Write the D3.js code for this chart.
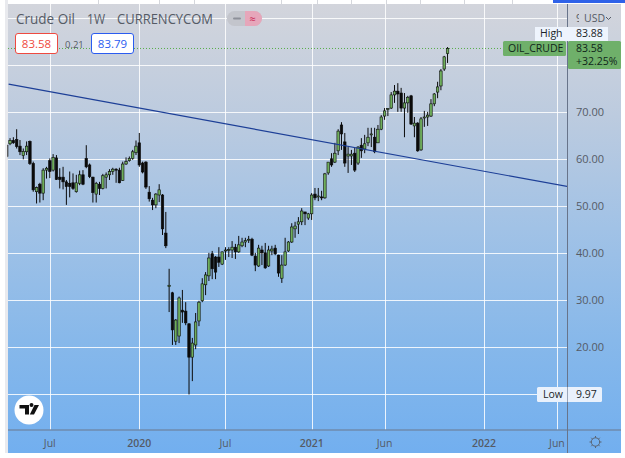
<!DOCTYPE html>
<html>
<head>
<meta charset="utf-8">
<style>
html,body{margin:0;padding:0;background:#fff}
svg{display:block}
text{font-family:"Open Sans","Noto Sans",sans-serif}
</style>
<script src="https://cdn.jsdelivr.net/npm/d3@7/dist/d3.min.js"></script>
</head>
<body>
<svg id="chart" width="625" height="458"></svg>
<script>
// Weekly OIL_CRUDE candles, first bar in the week of 1 April 2019
const firstWeek = "2019-04-01";
const opens = [63.0,63.3,64.0,64.2,62.8,60.8,61.6,63.8,59.1,53.1,54.7,52.8,57.7,59.7,57.7,60.3,56.2,56.2,55.2,54.9,55.0,53.1,54.9,56.7,60.2,58.8,56.2,52.6,54.7,53.8,56.2,56.7,57.4,57.9,57.7,55.5,59.0,59.7,60.2,61.4,
  63.5,59.2,59.4,53.0,51.3,50.3,52.4,52.4,44.3,32.9,31.6,21.3,22.4,27.9,27.7,25.0,17.9,20.5,25.6,29.9,33.3,35.2,39.9,39.2,39.2,37.7,40.5,40.6,40.7,41.3,40.3,41.6,42.4,42.8,43.0,39.4,37.3,40.7,40.1,37.3,40.5,41.1,39.6,34.7,37.5,40.5,42.4,45.2,46.2,46.7,48.8,47.5,48.4,52.6,52.0,52.0,51.8,57.1,60.1,59.4,61.8,67.3,63.7,60.7,60.7,61.3,59.2,63.0,62.2,63.5,65.2,64.7,63.5,66.4,69.2,70.6,70.9,73.7,74.5,74.1,70.9,72.0,73.5,67.1,67.7,62.0,68.8,69.0,69.2,71.8,74.3,75.6,79.2,82.5];
const highs = [63.3,64.5,64.7,66.4,64.1,62.3,63.8,64.0,59.5,54.2,55.0,58.1,58.4,60.2,61.1,60.9,58.1,58.4,55.6,57.4,57.0,56.7,57.6,57.7,63.0,59.1,56.3,55.2,55.2,56.9,57.2,57.9,58.2,58.1,58.2,59.5,60.4,60.6,62.0,64.0,
  65.6,59.5,59.6,54.3,51.8,52.8,54.7,52.6,48.8,36.7,31.8,26.0,30.8,32.2,29.6,25.1,22.0,27.3,29.9,34.7,36.0,40.1,40.5,39.4,41.3,40.4,41.3,41.3,42.6,42.0,43.7,43.3,43.3,43.7,43.3,40.1,41.8,41.6,42.2,41.6,41.6,41.8,39.7,39.6,43.3,42.6,46.4,46.7,47.7,49.6,48.8,48.6,52.8,53.9,53.9,53.3,57.1,59.4,61.3,63.5,66.4,67.9,65.6,62.6,62.0,62.4,62.8,64.5,65.2,66.7,66.7,66.7,67.3,69.4,70.9,70.9,74.3,75.8,76.2,75.2,74.1,73.5,73.7,69.0,67.9,69.0,70.3,70.1,72.8,74.1,76.5,79.2,82.0,83.88];
const lows = [60.2,63.0,63.3,62.3,60.9,60.0,60.9,58.8,53.1,50.6,50.8,51.3,55.9,56.0,57.4,55.6,53.8,53.6,50.3,51.9,53.5,52.9,54.5,54.5,58.1,56.0,50.8,50.8,52.4,53.6,53.8,55.6,56.7,55.0,54.9,55.4,58.8,59.5,59.9,60.9,
  58.4,57.0,53.7,51.0,49.2,49.6,50.9,43.9,41.1,27.5,20.5,20.5,20.9,25.2,24.7,9.97,12.8,19.6,24.5,29.6,31.1,34.1,34.5,34.5,37.1,37.5,38.6,39.2,39.0,38.8,40.1,41.3,41.3,42.2,39.4,36.2,37.1,37.5,36.7,37.1,39.6,39.6,35.0,33.7,37.3,40.3,42.2,43.3,44.1,46.0,46.0,47.1,47.1,51.3,51.1,51.3,51.6,56.7,58.4,59.2,60.9,62.0,58.4,57.1,58.8,57.3,58.8,60.3,61.3,62.8,62.6,61.3,63.5,66.2,68.4,69.2,70.7,72.0,70.1,70.1,64.7,69.9,67.3,64.7,61.6,61.8,66.9,67.1,69.0,71.3,73.0,74.7,78.8,80.5];
const closes = [60.6,64.0,63.5,62.7,61.6,61.7,62.8,59.1,53.5,54.0,52.8,57.7,58.1,57.4,60.4,55.7,55.7,55.2,54.2,54.2,53.8,55.0,56.7,54.7,58.4,56.3,52.9,54.9,53.8,56.5,56.7,57.4,57.9,57.7,55.0,59.0,59.5,60.2,61.6,62.8,
  58.8,57.3,54.1,51.6,50.3,52.6,53.5,45.2,41.6,33.2,23.7,25.8,30.5,27.5,25.2,17.9,20.9,25.4,29.6,33.5,35.4,39.0,36.7,36.0,38.1,40.3,40.7,40.8,41.3,40.3,41.8,42.4,42.7,43.0,39.6,37.5,41.1,40.1,36.9,40.7,40.9,39.9,35.8,37.5,40.3,42.4,45.6,45.8,46.7,49.0,48.4,48.4,52.4,51.8,52.2,51.8,56.9,59.4,58.8,61.3,66.0,65.4,59.2,61.1,61.1,57.7,62.6,61.8,63.3,64.7,65.4,61.6,66.4,69.0,70.3,70.8,73.7,74.5,73.9,70.9,72.0,73.2,67.5,67.7,61.8,68.6,69.0,69.4,71.8,73.9,75.4,78.8,81.8,83.58];

// Axis ticks and the drawn trend line
const gridPrices = [10,20,30,40,50,60,70,80,90];
const labelledPrices = [20,30,40,50,60,70];
const timeTicks = ["2019-07-01","2020-01-06","2020-07-06","2021-01-04","2021-06-07","2022-01-03","2022-06-06"];
const timeLabels = ["Jul","2020","Jul","2021","Jun","2022","Jun"];
const trendDates = ["2019-04-05","2022-07-04"];
const trendValues = [76.0,54.1];

const lastClose = 83.58, priceChange = "+32.25%";
const sessionHigh = 83.88, sessionLow = 9.97;
const bidPrice = "83.58", spreadText = "0.21", askPrice = "83.79";
const tabEdges = [98,159,194,281,317,351,386,420,464,512];

const plot = {left:8, right:567, top:4, bottom:430, axisBottom:453, panelRight:621};
const parse = d3.utcParse("%Y-%m-%d");

const weeks = d3.utcMonday.range(parse(firstWeek), d3.utcDay.offset(parse(firstWeek), opens.length*7));
const candles = weeks.map((date,i)=>({date, o:opens[i], h:highs[i], l:lows[i], c:closes[i]}));

const x = d3.scaleUtc().domain([parse("2020-01-06"),parse("2022-01-03")]).range([139.3,484]);
const y = d3.scaleLinear().domain([10,80]).range([394.3,65.3]);

const svg = d3.select("#chart");
const defs = svg.append("defs");
const grad = defs.append("linearGradient").attr("id","panelFill").attr("x1",0).attr("x2",0).attr("y1",0).attr("y2",1);
[[0,"#d3d5dc"],[0.25,"#bccbdf"],[0.5,"#a1c2e6"],[0.75,"#87b8ea"],[1,"#72afef"]]
  .forEach(([o,c])=>grad.append("stop").attr("offset",o).attr("stop-color",c));
defs.append("clipPath").attr("id","plotClip").append("rect")
  .attr("x",plot.left-0.5).attr("y",plot.top).attr("width",plot.right-plot.left+0.5).attr("height",plot.bottom-plot.top);
defs.append("clipPath").attr("id","scaleClip").append("rect")
  .attr("x",570).attr("y",8).attr("width",9).attr("height",20);

// Window chrome around the panel
svg.append("rect").attr("width",625).attr("height",458).attr("fill","#fff");
svg.append("rect").attr("x",5).attr("y",0).attr("width",3).attr("height",453).attr("fill","#e9eaee");
svg.append("g").selectAll("line").data(tabEdges).join("line")
  .attr("x1",d=>d+0.5).attr("x2",d=>d+0.5).attr("y1",0).attr("y2",4).attr("stroke","#d5d7dc");
svg.append("rect").attr("x",553).attr("y",0).attr("width",72).attr("height",3).attr("fill","#2f62e8");
svg.append("rect").attr("x",plot.left).attr("y",plot.top).attr("width",plot.panelRight-plot.left)
  .attr("height",plot.axisBottom-plot.top).attr("fill","url(#panelFill)");

// Grid
const gridColor = "rgba(255,255,255,0.85)";
const grid = svg.append("g").attr("shape-rendering","crispEdges");
grid.selectAll("line.h").data(gridPrices).join("line").attr("class","h")
  .attr("x1",plot.left).attr("x2",plot.right).attr("y1",d=>Math.round(y(d))+0.5).attr("y2",d=>Math.round(y(d))+0.5)
  .attr("stroke",gridColor);
grid.selectAll("line.v").data(timeTicks).join("line").attr("class","v")
  .attr("x1",d=>Math.round(x(parse(d)))+0.5).attr("x2",d=>Math.round(x(parse(d)))+0.5)
  .attr("y1",plot.top).attr("y2",plot.bottom).attr("stroke",gridColor);

// Current price guide
svg.append("line").attr("x1",plot.left).attr("x2",503).attr("y1",y(lastClose)).attr("y2",y(lastClose))
  .attr("stroke","#58ad4a").attr("stroke-width",1).attr("stroke-dasharray","1 2");

// Candles
const body = svg.append("g").attr("clip-path","url(#plotClip)");
const bars = body.selectAll("g").data(candles).join("g");
bars.append("line").attr("x1",d=>x(d.date)).attr("x2",d=>x(d.date)).attr("y1",d=>y(d.h)).attr("y2",d=>y(d.l))
  .attr("stroke","#0a0a0a").attr("stroke-width",1);
bars.append("rect").attr("x",d=>x(d.date)-1.25).attr("width",2.5)
  .attr("y",d=>y(Math.max(d.o,d.c))).attr("height",d=>Math.max(1,Math.abs(y(d.o)-y(d.c))))
  .attr("fill",d=>d.c>=d.o?"#6fae5c":"#0a0a0a").attr("stroke","#0a0a0a").attr("stroke-width",0.6);

// Trend line
svg.append("line").attr("clip-path","url(#plotClip)")
  .attr("x1",x(parse(trendDates[0]))).attr("y1",y(trendValues[0]))
  .attr("x2",x(parse(trendDates[1]))).attr("y2",y(trendValues[1]))
  .attr("stroke","#1d3f97").attr("stroke-width",1.2);

// Axis borders
svg.append("line").attr("x1",plot.left).attr("x2",plot.panelRight).attr("y1",430).attr("y2",430)
  .attr("stroke","#6f8bad").attr("stroke-width",1.5);
svg.append("line").attr("x1",567.5).attr("x2",567.5).attr("y1",plot.top).attr("y2",plot.axisBottom)
  .attr("stroke","#68748a").attr("stroke-width",1);

// Axis labels
const axisInk = "#555b66";
svg.append("g").selectAll("text").data(labelledPrices).join("text")
  .attr("x",576).attr("y",d=>y(d)+4).attr("font-size",11).attr("fill",axisInk)
  .text(d=>d3.format(".2f")(d));
svg.append("g").selectAll("text").data(timeTicks).join("text")
  .attr("x",d=>x(parse(d))).attr("y",447).attr("text-anchor","middle").attr("font-size",10.5)
  .attr("fill",axisInk).attr("font-weight",(d,i)=>/^\d/.test(timeLabels[i])?600:400)
  .text((d,i)=>timeLabels[i]);

// Currency selector sits over the top of the price scale, leaving one digit showing
svg.append("text").attr("clip-path","url(#scaleClip)").attr("x",576).attr("y",22).attr("font-size",11).attr("fill",axisInk).text("9");
svg.append("text").attr("x",584).attr("y",22).attr("font-size",10.5).attr("fill",axisInk).text("USD");
svg.append("path").attr("d","M606 17l2.5 2.5 2.5-2.5").attr("fill","none").attr("stroke",axisInk).attr("stroke-width",1);

// Title
const titleParts = [["Crude Oil",16,59],["1W",87,18],["CURRENCYCOM",117,96]];
svg.append("g").selectAll("text").data(titleParts).join("text")
  .attr("x",d=>d[1]).attr("y",24).attr("font-size",14.5).attr("fill","#555b66")
  .attr("textLength",d=>d[2]).attr("lengthAdjust","spacingAndGlyphs").text(d=>d[0]);

// Collapse and symbol-state pill next to the title
const pill = svg.append("g");
pill.append("rect").attr("x",227).attr("y",11).attr("width",35).attr("height",15).attr("rx",7.5).attr("fill","#c3c5cc");
pill.append("path").attr("d","M245 11H254.5a7.5 7.5 0 0 1 0 15H245Z").attr("fill","#e6a6ba");
pill.append("rect").attr("x",233).attr("y",17.5).attr("width",8).attr("height",2).attr("rx",1).attr("fill","#8d9099");
pill.append("text").attr("x",252.5).attr("y",22.5).attr("text-anchor","middle").attr("font-size",11).attr("fill","#c8224e").text("≈");

// Quote boxes
function quoteBox(x0,label,color){
  svg.append("rect").attr("x",x0).attr("y",33.5).attr("width",42).attr("height",20).attr("rx",2.5)
    .attr("fill","#fff").attr("stroke",color);
  svg.append("text").attr("x",x0+21).attr("y",48).attr("text-anchor","middle").attr("font-size",11.5)
    .attr("fill",color).text(label);
}
quoteBox(15.5,bidPrice,"#ee4a40");
svg.append("text").attr("x",65).attr("y",47.5).attr("font-size",9.5).attr("fill","#555b66").text(spreadText);
quoteBox(91.5,askPrice,"#2b5cf0");

// Price tags
const tagGreen = "#6fb06a", tagInk = "#10261a";
svg.append("rect").attr("x",535).attr("y",27).attr("width",73).attr("height",14).attr("fill","#eef4fd");
svg.append("text").attr("x",540).attr("y",37).attr("font-size",10.5).attr("fill","#1a1f28").text("High");
svg.append("text").attr("x",576).attr("y",37).attr("font-size",10.5).attr("fill","#1a1f28").text(sessionHigh.toFixed(2));
svg.append("rect").attr("x",503).attr("y",41).attr("width",63).attr("height",15).attr("rx",1.5).attr("fill",tagGreen);
svg.append("text").attr("x",508).attr("y",52).attr("font-size",10.5).attr("fill",tagInk).text("OIL_CRUDE");
svg.append("rect").attr("x",568).attr("y",41).attr("width",53).attr("height",28).attr("rx",1.5).attr("fill",tagGreen);
svg.append("text").attr("x",576).attr("y",52).attr("font-size",10.5).attr("fill",tagInk).text(lastClose.toFixed(2));
svg.append("text").attr("x",576).attr("y",65).attr("font-size",10.5).attr("fill",tagInk).text(priceChange);
svg.append("rect").attr("x",537).attr("y",387).attr("width",65).attr("height",15).attr("rx",1.5).attr("fill","#e9f1fc");
svg.append("text").attr("x",543).attr("y",398).attr("font-size",10.5).attr("fill","#1a1f28").text("Low");
svg.append("text").attr("x",576).attr("y",398).attr("font-size",10.5).attr("fill","#1a1f28").text(sessionLow.toFixed(2));
svg.append("line").attr("x1",567.5).attr("x2",567.5).attr("y1",387).attr("y2",402).attr("stroke","#68748a").attr("stroke-opacity",0.6);

// Logo badge
const logo = svg.append("g").attr("transform","translate(29,410)");
logo.append("circle").attr("r",14.5).attr("fill","#fff");
logo.append("path").attr("fill","#111")
  .attr("d","M-9.5-5H0V4.5H-4V-1.5H-9.5Z M0.5-5a2 2 0 1 0 4 0a2 2 0 1 0-4 0Z M5.5-5H10L5 4.5H0.8Z");

// Settings glyph
const gear = svg.append("g").attr("transform","translate(595.5,442)").attr("fill","none").attr("stroke","#5a6473").attr("stroke-width",1);
gear.append("circle").attr("r",4.2);
d3.range(8).forEach(k=>{
  const a = k*Math.PI/4;
  gear.append("line").attr("x1",4.2*Math.cos(a)).attr("y1",4.2*Math.sin(a)).attr("x2",6*Math.cos(a)).attr("y2",6*Math.sin(a));
});
</script>
</body>
</html>
